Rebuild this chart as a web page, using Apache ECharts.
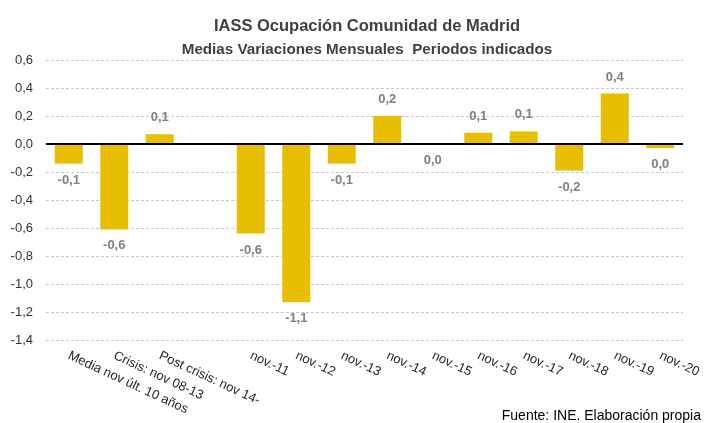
<!DOCTYPE html>
<html>
<head>
<meta charset="utf-8">
<script src="https://cdn.jsdelivr.net/npm/echarts@6/dist/echarts.min.js"></script>
<style>
  html, body { margin: 0; padding: 0; background: #fff; }
  #chart { width: 707px; height: 423px; }
</style>
</head>
<body>
<div id="chart"></div>
<script>
// categorias (la cuarta va vacia, como en el original)
var categories = ['Media nov últ. 10 años', 'Crisis: nov 08-13', 'Post crisis: nov 14-', '',
  'nov.-11', 'nov.-12', 'nov.-13', 'nov.-14', 'nov.-15', 'nov.-16', 'nov.-17', 'nov.-18', 'nov.-19', 'nov.-20'];
var values = [-0.14, -0.61, 0.07, null, -0.64, -1.13, -0.14, 0.20, -0.002, 0.08, 0.09, -0.19, 0.36, -0.03];
var yTicks = [-1.4, 0.6, 0.2]; // min, max, intervalo

function fmt(v) {
  var s = v.toFixed(1);
  if (s === '-0.0') s = '0.0';
  return s.replace('.', ',');
}

var barData = values.map(function (v) {
  if (v === null) return null;
  return {
    value: v,
    label: { position: v < 0 ? 'bottom' : 'top' }
  };
});

var option = {
  animation: false,
  title: {
    text: '{a|IASS Ocupación Comunidad de Madrid}\n{b|Medias Variaciones Mensuales  Periodos indicados}',
    left: 362,
    textAlign: 'center',
    top: 10,
    textStyle: {
      rich: {
        a: { fontFamily: 'Liberation Sans', fontSize: 16.5, fontWeight: 'bold', color: '#404040', lineHeight: 23 },
        b: { fontFamily: 'Liberation Sans', fontSize: 15.2, fontWeight: 'bold', color: '#404040', lineHeight: 23 }
      }
    }
  },
  graphic: [{
    type: 'text',
    right: 6,
    bottom: 0,
    style: {
      text: 'Fuente: INE. Elaboración propia',
      font: '14px "Liberation Sans"',
      fill: '#000'
    }
  }],
  grid: { left: 46, right: 24, top: 60, bottom: 83 },
  xAxis: {
    type: 'category',
    data: categories,
    axisLine: { show: false },
    axisTick: { show: false },
    axisLabel: {
      interval: 0,
      rotate: -25,
      margin: 15,
      fontFamily: 'Liberation Sans',
      fontSize: 13,
      color: '#262626'
    }
  },
  yAxis: {
    type: 'value',
    min: yTicks[0],
    max: yTicks[1],
    interval: yTicks[2],
    axisLine: { show: false },
    axisTick: { show: false },
    axisLabel: {
      margin: 13,
      fontFamily: 'Liberation Sans',
      fontSize: 13,
      color: '#333333',
      formatter: function (v) { return fmt(v); }
    },
    splitLine: {
      lineStyle: { color: '#b7c9e6', type: [3, 2], width: 1 }
    }
  },
  series: [{
    type: 'bar',
    data: barData,
    barWidth: 28,
    itemStyle: { color: '#e8be00' },
    label: {
      show: true,
      distance: 10,
      fontFamily: 'Liberation Sans',
      fontSize: 13,
      fontWeight: 'bold',
      color: '#7f7f7f',
      formatter: function (p) { return fmt(p.value); }
    },
    markLine: {
      silent: true,
      symbol: 'none',
      label: { show: false },
      lineStyle: { color: '#000', type: 'solid', width: 2 },
      data: [{ yAxis: 0 }]
    }
  }]
};

var myChart = echarts.init(document.getElementById('chart'));
myChart.setOption(option);
</script>
</body>
</html>
